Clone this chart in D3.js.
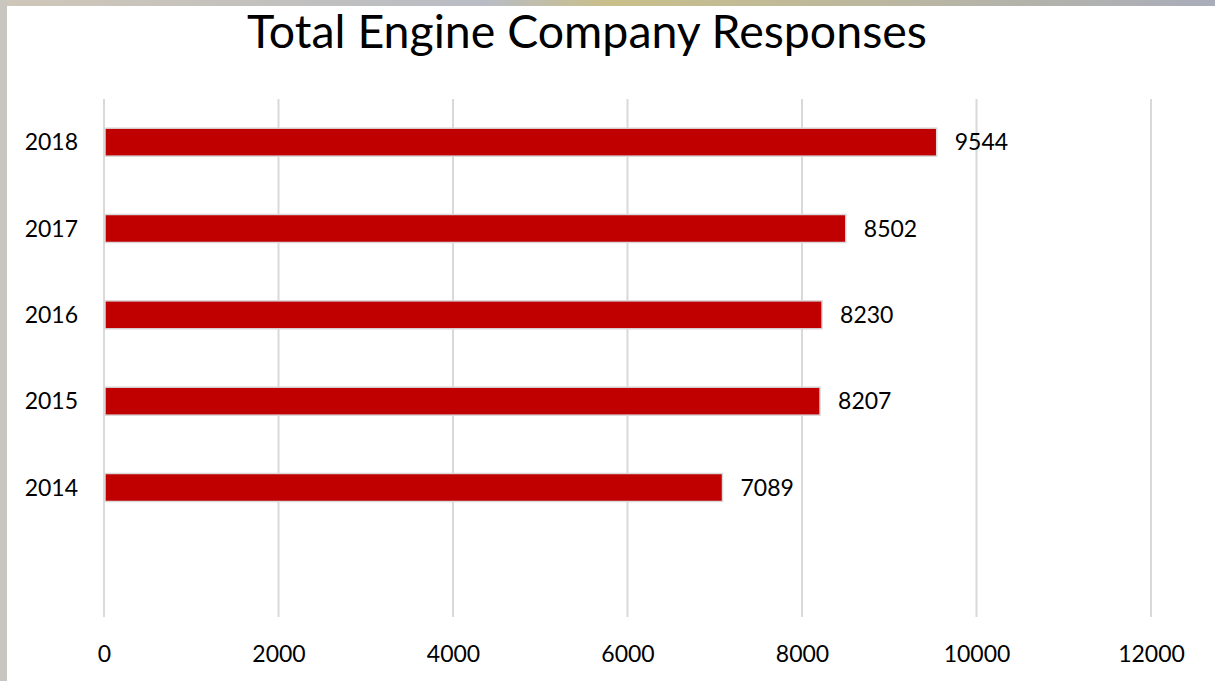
<!DOCTYPE html>
<html><head><meta charset="utf-8">
<script src="https://cdn.jsdelivr.net/npm/d3@7"></script>
<style>html,body{margin:0;padding:0;background:#fff;overflow:hidden}</style>
</head><body><svg id="c" width="1215" height="681"></svg>
<script>
const categories = ["2018","2017","2016","2015","2014",""];
const values = [9544, 8502, 8230, 8207, 7089, null];
const tickValues = [0, 2000, 4000, 6000, 8000, 10000, 12000];
const title = "Total Engine Company Responses";

const svg = d3.select("#c");
const W = 1215, H = 681;
const FONT = "Lato, 'Open Sans', sans-serif";

// backdrop edges
const defs = svg.append("defs");
const g1 = defs.append("linearGradient").attr("id","topg").attr("x1",0).attr("x2",1);
g1.append("stop").attr("offset","0").attr("stop-color","#cfc7b8");
g1.append("stop").attr("offset","0.4").attr("stop-color","#b9bcc4");
g1.append("stop").attr("offset","0.5").attr("stop-color","#c9bf8a");
g1.append("stop").attr("offset","1").attr("stop-color","#a9adba");
svg.append("rect").attr("width",W).attr("height",H).attr("fill","url(#topg)");
svg.append("rect").attr("x",0).attr("y",0).attr("width",7).attr("height",H).attr("fill","#c9c6c0");
svg.append("rect").attr("x",7).attr("y",6).attr("width",W-7).attr("height",H-6).attr("fill","#ffffff");

const x = d3.scaleLinear().domain([0, 12000]).range([104, 1151]);
const y = d3.scaleBand().domain(categories.map((c,i)=>i)).range([99, 617]).paddingInner(0).paddingOuter(0);
const barH = 28;

// gridlines
svg.append("g").selectAll("line").data(tickValues).join("line")
  .attr("x1", d=>x(d)).attr("x2", d=>x(d))
  .attr("y1", 99).attr("y2", 617)
  .attr("stroke", "#d9d9d9").attr("stroke-width", 2);

// x axis labels
const xAxis = d3.axisBottom(x).tickValues(tickValues).tickSize(0).tickFormat(d3.format("d"));
const ax = svg.append("g").attr("transform","translate(0,643)").call(xAxis);
ax.select(".domain").remove();
ax.selectAll("text").attr("font-family",FONT).attr("font-size",23).attr("fill","#000").attr("dy","0.71em");

// y axis labels
const yAxis = d3.axisLeft(y).tickSize(0).tickFormat(i=>categories[i]);
const ay = svg.append("g").attr("transform","translate(78,0)").call(yAxis);
ay.select(".domain").remove();
ay.selectAll("text").attr("font-family",FONT).attr("font-size",23).attr("fill","#000").attr("x",0).attr("dy","0.35em");

const data = categories.map((c,i)=>({c, v: values[i], i})).filter(d=>d.v!=null);

// bars
svg.append("g").selectAll("rect").data(data).join("rect")
  .attr("x", x(0)+1)
  .attr("y", d=>y(d.i)+y.bandwidth()/2 - barH/2)
  .attr("width", d=>x(d.v)-x(0)-1)
  .attr("height", barH)
  .attr("fill", "#c00000")
  .attr("stroke", "#d9d9d9").attr("stroke-width", 1.5);

// value labels
svg.append("g").selectAll("text").data(data).join("text")
  .attr("x", d=>x(d.v)+18)
  .attr("y", d=>y(d.i)+y.bandwidth()/2)
  .attr("dy","0.35em")
  .attr("font-family",FONT).attr("font-size",23).attr("fill","#000")
  .text(d=>d.v);

// title
const t = svg.append("text").attr("x",587).attr("y",48).attr("text-anchor","middle")
  .attr("font-family",FONT).attr("font-size",46).attr("fill","#000").text(title);
const tw = t.node().getComputedTextLength();
t.attr("font-size", 46*680/tw);
</script></body></html>
